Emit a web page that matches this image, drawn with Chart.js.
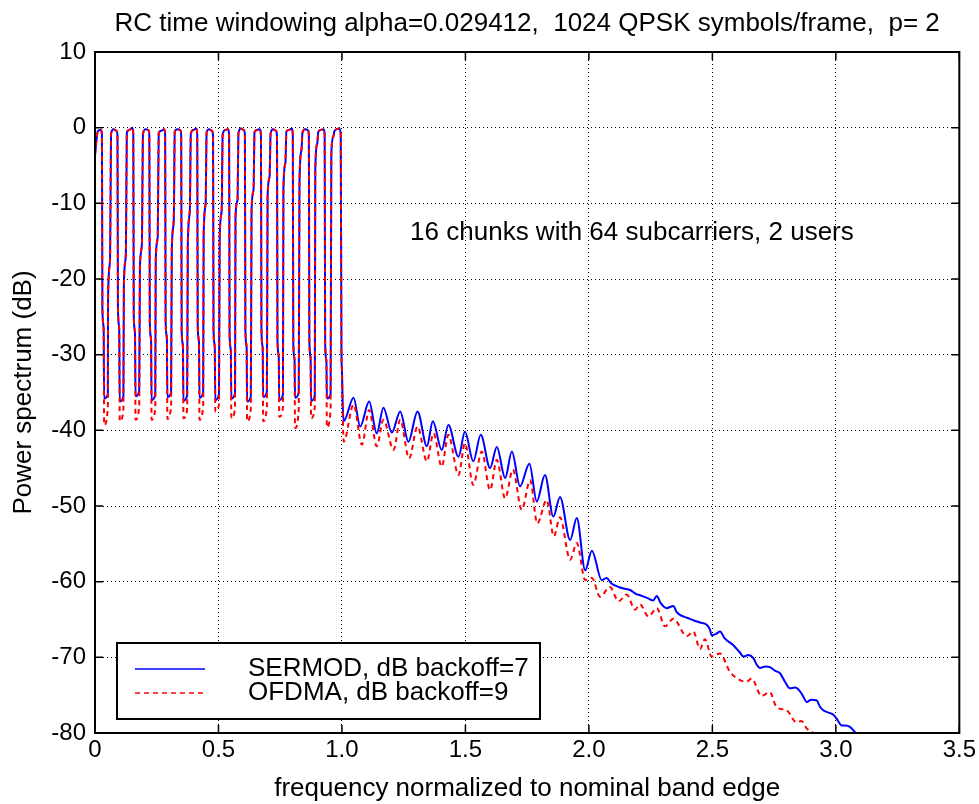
<!DOCTYPE html>
<html>
<head>
<meta charset="utf-8">
<script src="https://cdn.jsdelivr.net/npm/chart.js@4.4.0/dist/chart.umd.min.js"></script>
<style>
  html, body { margin: 0; padding: 0; background: #fff; }
  #chart { display: block; }
</style>
</head>
<body>
<canvas id="chart" width="979" height="804"></canvas>
<script>
// frequency points of the 16 occupied chunks (0..1), shared by both curves
const pulseFreq = [
  0.000, 0.012, 0.024, 0.028, 0.030, 0.035, 0.037, 0.052,
  0.053, 0.061, 0.065, 0.075, 0.087, 0.091, 0.093, 0.098, 0.100, 0.115,
  0.117, 0.125, 0.129, 0.139, 0.151, 0.155, 0.157, 0.162, 0.164, 0.179,
  0.182, 0.190, 0.194, 0.204, 0.216, 0.220, 0.222, 0.227, 0.229, 0.244,
  0.246, 0.254, 0.258, 0.268, 0.280, 0.284, 0.286, 0.291, 0.293, 0.308,
  0.311, 0.319, 0.323, 0.333, 0.345, 0.349, 0.351, 0.356, 0.358, 0.373,
  0.376, 0.384, 0.388, 0.398, 0.410, 0.414, 0.416, 0.421, 0.423, 0.438,
  0.440, 0.448, 0.452, 0.462, 0.474, 0.478, 0.480, 0.485, 0.487, 0.502,
  0.505, 0.513, 0.517, 0.527, 0.539, 0.543, 0.545, 0.550, 0.552, 0.567,
  0.569, 0.577, 0.581, 0.591, 0.603, 0.607, 0.609, 0.614, 0.616, 0.631,
  0.634, 0.642, 0.646, 0.656, 0.668, 0.672, 0.674, 0.679, 0.681, 0.696,
  0.699, 0.707, 0.711, 0.721, 0.733, 0.737, 0.739, 0.744, 0.746, 0.761,
  0.763, 0.771, 0.775, 0.785, 0.797, 0.801, 0.803, 0.808, 0.810, 0.825,
  0.828, 0.836, 0.840, 0.850, 0.862, 0.866, 0.868, 0.873, 0.875, 0.890,
  0.892, 0.900, 0.904, 0.914, 0.926, 0.930, 0.932, 0.937, 0.939, 0.954,
  0.957, 0.965, 0.969, 0.979, 0.989, 0.995, 0.998
];

const sermodPulse = [
  -3.6, -0.4, -0.3, -0.9, -24.1, -26.5, -35.8, -35.2,
  -22.3, -17.5, -0.8, -0.2, -0.4, -1.0, -24.1, -26.6, -36.2, -35.5,
  -20.6, -16.6, -0.6, -0.3, 0.0, -0.8, -24.8, -27.2, -35.5, -34.8,
  -18.3, -15.3, -0.9, -0.2, -0.3, -1.0, -25.8, -28.0, -36.0, -35.3,
  -17.5, -14.4, -0.7, -0.4, -0.2, -0.9, -25.6, -27.8, -35.6, -35.0,
  -16.2, -12.2, -0.5, -0.2, -0.3, -1.0, -26.8, -28.8, -36.1, -35.4,
  -15.3, -10.9, -0.8, -0.3, -0.1, -0.9, -26.2, -28.3, -35.7, -35.0,
  -14.4, -10.0, -0.6, -0.2, -0.4, -1.1, -26.7, -28.9, -36.0, -35.2,
  -14.4, -10.9, -0.9, -0.3, -0.2, -1.0, -27.2, -29.4, -35.8, -35.1,
  -11.8, -9.6, -0.7, -0.1, -0.3, -0.9, -26.7, -29.0, -36.2, -35.5,
  -10.9, -8.2, -0.6, -0.3, -0.2, -1.0, -26.7, -29.1, -35.6, -34.9,
  -9.1, -6.5, -0.8, -0.2, -0.4, -1.1, -28.1, -30.2, -36.0, -35.3,
  -8.2, -4.7, -0.5, -0.3, -0.1, -0.9, -28.5, -30.6, -35.7, -35.0,
  -7.4, -3.0, -0.7, -0.2, -0.3, -1.0, -28.1, -30.4, -36.1, -35.4,
  -5.6, -2.1, -0.6, -0.3, -0.2, -0.9, -28.5, -30.8, -35.8, -35.2,
  -3.4, -1.2, -0.5, -0.2, -0.1, -0.8, -29.6
];

const ofdmaPulse = [
  -3.6, -0.4, -0.3, -0.9, -24.1, -26.5, -39.3, -37.0,
  -22.3, -17.5, -0.8, -0.2, -0.4, -1.0, -24.1, -26.6, -38.8, -37.2,
  -20.6, -16.6, -0.6, -0.3, 0.0, -0.8, -24.8, -27.2, -38.6, -36.8,
  -18.3, -15.3, -0.9, -0.2, -0.3, -1.0, -25.8, -28.0, -38.6, -37.1,
  -17.5, -14.4, -0.7, -0.4, -0.2, -0.9, -25.6, -27.8, -38.5, -36.9,
  -16.2, -12.2, -0.5, -0.2, -0.3, -1.0, -26.8, -28.8, -38.4, -37.3,
  -15.3, -10.9, -0.8, -0.3, -0.1, -0.9, -26.2, -28.3, -38.6, -36.8,
  -14.4, -10.0, -0.6, -0.2, -0.4, -1.1, -26.7, -28.9, -37.5, -36.6,
  -14.4, -10.9, -0.9, -0.3, -0.2, -1.0, -27.2, -29.4, -38.4, -37.0,
  -11.8, -9.6, -0.7, -0.1, -0.3, -0.9, -26.7, -29.0, -38.8, -37.2,
  -10.9, -8.2, -0.6, -0.3, -0.2, -1.0, -26.7, -29.1, -38.8, -36.9,
  -9.1, -6.5, -0.8, -0.2, -0.4, -1.1, -28.1, -30.2, -38.2, -37.0,
  -8.2, -4.7, -0.5, -0.3, -0.1, -0.9, -28.5, -30.6, -39.7, -37.3,
  -7.4, -3.0, -0.7, -0.2, -0.3, -1.0, -28.1, -30.4, -38.4, -37.0,
  -5.6, -2.1, -0.6, -0.3, -0.2, -0.9, -28.5, -30.8, -39.6, -37.2,
  -3.4, -1.2, -0.5, -0.2, -0.1, -0.8, -29.6
];

// out-of-band part, SERMOD
const sermodTailFreq = [
  1.000, 1.003, 1.007, 1.047, 1.074, 1.110, 1.141, 1.168, 1.202, 1.236,
  1.269, 1.306, 1.344, 1.368, 1.404, 1.431, 1.472, 1.498, 1.532, 1.562,
  1.600, 1.627, 1.661, 1.688, 1.721, 1.759, 1.789, 1.822, 1.856, 1.883,
  1.924, 1.951, 1.985, 2.012, 2.052, 2.072, 2.090, 2.120, 2.140, 2.167,
  2.190, 2.207, 2.240, 2.260, 2.275, 2.290, 2.315, 2.342, 2.355, 2.369,
  2.400, 2.423, 2.450, 2.477, 2.490, 2.497, 2.515, 2.531, 2.550, 2.585,
  2.610, 2.626, 2.645, 2.666, 2.680, 2.693, 2.715, 2.733, 2.755, 2.774,
  2.795, 2.814, 2.835, 2.855, 2.870, 2.882, 2.900, 2.923, 2.935, 2.949,
  2.970, 2.990, 3.005, 3.024, 3.040, 3.057, 3.075, 3.091, 3.110
];
const sermodTail = [
  -32.0, -36.5, -38.8, -35.7, -39.5, -36.2, -40.4, -37.0, -40.3, -37.5,
  -41.5, -37.5, -42.1, -38.8, -42.6, -39.3, -43.5, -40.2, -44.1, -40.6,
  -45.0, -42.2, -46.3, -42.8, -47.4, -44.4, -49.4, -45.9, -51.4, -48.8,
  -54.5, -51.6, -58.5, -55.9, -59.8, -59.5, -60.2, -60.7, -60.9, -61.1,
  -61.6, -61.8, -62.2, -62.5, -61.9, -62.8, -63.5, -63.2, -64.0, -64.4,
  -64.8, -65.1, -65.4, -65.7, -66.3, -67.1, -66.9, -66.6, -67.5, -68.4,
  -69.3, -69.9, -69.7, -70.1, -71.0, -71.4, -71.2, -71.3, -71.8, -72.1,
  -73.3, -74.1, -74.0, -74.5, -75.3, -75.9, -75.6, -75.7, -76.5, -77.0,
  -77.3, -77.6, -78.2, -79.0, -79.0, -79.2, -79.8, -80.5, -81.5
];

// out-of-band part, OFDMA
const ofdmaTailFreq = [
  1.000, 1.003, 1.007, 1.047, 1.081, 1.110, 1.141, 1.168, 1.209, 1.236,
  1.272, 1.306, 1.344, 1.371, 1.404, 1.431, 1.472, 1.498, 1.532, 1.566,
  1.600, 1.627, 1.661, 1.692, 1.728, 1.762, 1.791, 1.829, 1.858, 1.883,
  1.924, 1.951, 1.985, 2.012, 2.045, 2.085, 2.120, 2.153, 2.187, 2.207,
  2.241, 2.275, 2.308, 2.342, 2.396, 2.423, 2.450, 2.470, 2.497, 2.531,
  2.571, 2.612, 2.640, 2.659, 2.699, 2.733, 2.760, 2.801, 2.841, 2.860,
  2.882, 2.905, 2.925, 2.940
];
const ofdmaTail = [
  -32.0, -37.5, -41.5, -36.6, -41.9, -37.3, -42.1, -38.6, -42.6, -38.6,
  -43.7, -39.5, -44.1, -40.4, -44.8, -40.6, -45.9, -41.7, -47.2, -42.8,
  -47.9, -43.9, -49.0, -45.2, -50.5, -46.6, -52.3, -49.2, -54.0, -51.5,
  -57.1, -54.9, -59.8, -59.5, -62.0, -60.7, -62.6, -61.7, -63.7, -63.0,
  -64.6, -63.5, -65.9, -64.9, -67.2, -66.6, -68.9, -67.6, -69.9, -69.5,
  -71.9, -73.0, -73.2, -72.8, -75.1, -74.6, -76.6, -77.0, -78.6, -78.4,
  -79.4, -79.9, -80.6, -81.5
];

const xTickValues = [0, 0.5, 1, 1.5, 2, 2.5, 3, 3.5];
const yTickValues = [-80, -70, -60, -50, -40, -30, -20, -10, 0, 10];

const titleText = 'RC time windowing alpha=0.029412,  1024 QPSK symbols/frame,  p= 2';
const noteText = '16 chunks with 64 subcarriers, 2 users';

const FONT = '"Liberation Sans", Arial, Helvetica, sans-serif';

function toPoints(xs, ys) {
  const pts = [];
  for (let i = 0; i < xs.length; i++) pts.push({ x: xs[i], y: ys[i] });
  return pts;
}

const sermodData = toPoints(pulseFreq, sermodPulse).concat(toPoints(sermodTailFreq, sermodTail));
const ofdmaData = toPoints(pulseFreq, ofdmaPulse).concat(toPoints(ofdmaTailFreq, ofdmaTail));

// frame, inward ticks, title, note and legend the way matlab draws them
const matlabLook = {
  id: 'matlabLook',
  afterDatasetsDraw(chart) {
    const { ctx, chartArea: a, scales: { x, y } } = chart;
    ctx.save();
    ctx.strokeStyle = '#000';
    ctx.lineWidth = 1.5;
    ctx.setLineDash([]);
    ctx.beginPath();
    xTickValues.forEach(v => {
      const px = x.getPixelForValue(v);
      ctx.moveTo(px, a.bottom); ctx.lineTo(px, a.bottom - 8);
      ctx.moveTo(px, a.top); ctx.lineTo(px, a.top + 8);
    });
    yTickValues.forEach(v => {
      const py = y.getPixelForValue(v);
      ctx.moveTo(a.left, py); ctx.lineTo(a.left + 8, py);
      ctx.moveTo(a.right, py); ctx.lineTo(a.right - 8, py);
    });
    ctx.stroke();
    ctx.lineWidth = 2;
    ctx.strokeRect(a.left, a.top, a.right - a.left, a.bottom - a.top);

    ctx.fillStyle = '#000';
    ctx.font = '26px ' + FONT;
    ctx.textAlign = 'center';
    ctx.textBaseline = 'alphabetic';
    ctx.fillText(titleText, (a.left + a.right) / 2, 31);

    ctx.textAlign = 'left';
    ctx.fillText(noteText, x.getPixelForValue(1.276), y.getPixelForValue(-14.9));

    // legend box
    const lx = a.left + 22, ly = a.bottom - 90, lw = 423, lh = 76;
    ctx.fillStyle = '#fff';
    ctx.fillRect(lx, ly, lw, lh);
    ctx.strokeStyle = '#000';
    ctx.lineWidth = 2;
    ctx.strokeRect(lx, ly, lw, lh);
    chart.data.datasets.forEach((ds, i) => {
      const ry = ly + 26 + i * 24;
      ctx.strokeStyle = ds.borderColor;
      ctx.lineWidth = 1.5;
      ctx.setLineDash(ds.borderDash || []);
      ctx.beginPath();
      ctx.moveTo(lx + 18, ry); ctx.lineTo(lx + 88, ry);
      ctx.stroke();
      ctx.setLineDash([]);
      ctx.fillStyle = '#000';
      ctx.fillText(ds.label, lx + 131, ry + 7);
    });
    ctx.restore();
  }
};

new Chart(document.getElementById('chart'), {
  type: 'line',
  data: {
    datasets: [
      {
        label: 'SERMOD, dB backoff=7',
        data: sermodData,
        borderColor: '#0000ff',
        borderWidth: 2,
        pointRadius: 0,
        cubicInterpolationMode: 'monotone',
        clip: 0,
        order: 1
      },
      {
        label: 'OFDMA, dB backoff=9',
        data: ofdmaData,
        borderColor: '#ff0000',
        borderDash: [5, 4],
        borderWidth: 2,
        pointRadius: 0,
        cubicInterpolationMode: 'monotone',
        clip: 0,
        order: 0
      }
    ]
  },
  options: {
    responsive: false,
    animation: false,
    devicePixelRatio: 1,
    layout: { padding: { left: 0, right: 18, top: 52, bottom: 0 } },
    plugins: {
      legend: { display: false },
      tooltip: { enabled: false },
      title: { display: false }
    },
    scales: {
      x: {
        type: 'linear',
        min: 0,
        max: 3.5,
        afterBuildTicks: s => { s.ticks = xTickValues.map(v => ({ value: v })); },
        afterFit: s => { s.height = 71; },
        ticks: { color: '#000', font: { family: FONT, size: 24 }, padding: 3, maxRotation: 0 },
        grid: { color: '#000', lineWidth: 1, drawTicks: false },
        border: { display: false, dash: [1, 3] },
        title: {
          display: true,
          text: 'frequency normalized to nominal band edge',
          color: '#000',
          font: { family: FONT, size: 26, lineHeight: 1.2 },
          padding: { top: 0, bottom: 0 }
        }
      },
      y: {
        type: 'linear',
        min: -80,
        max: 10,
        afterBuildTicks: s => { s.ticks = yTickValues.map(v => ({ value: v })); },
        afterFit: s => { s.width = 95; },
        ticks: { color: '#000', font: { family: FONT, size: 24 }, padding: 9 },
        grid: { color: '#000', lineWidth: 1, drawTicks: false },
        border: { display: false, dash: [1, 3] },
        title: {
          display: true,
          text: 'Power spectrum (dB)',
          color: '#000',
          font: { family: FONT, size: 26, lineHeight: 1.2 },
          padding: { top: 8, bottom: 0 }
        }
      }
    }
  },
  plugins: [matlabLook]
});
</script>
</body>
</html>
